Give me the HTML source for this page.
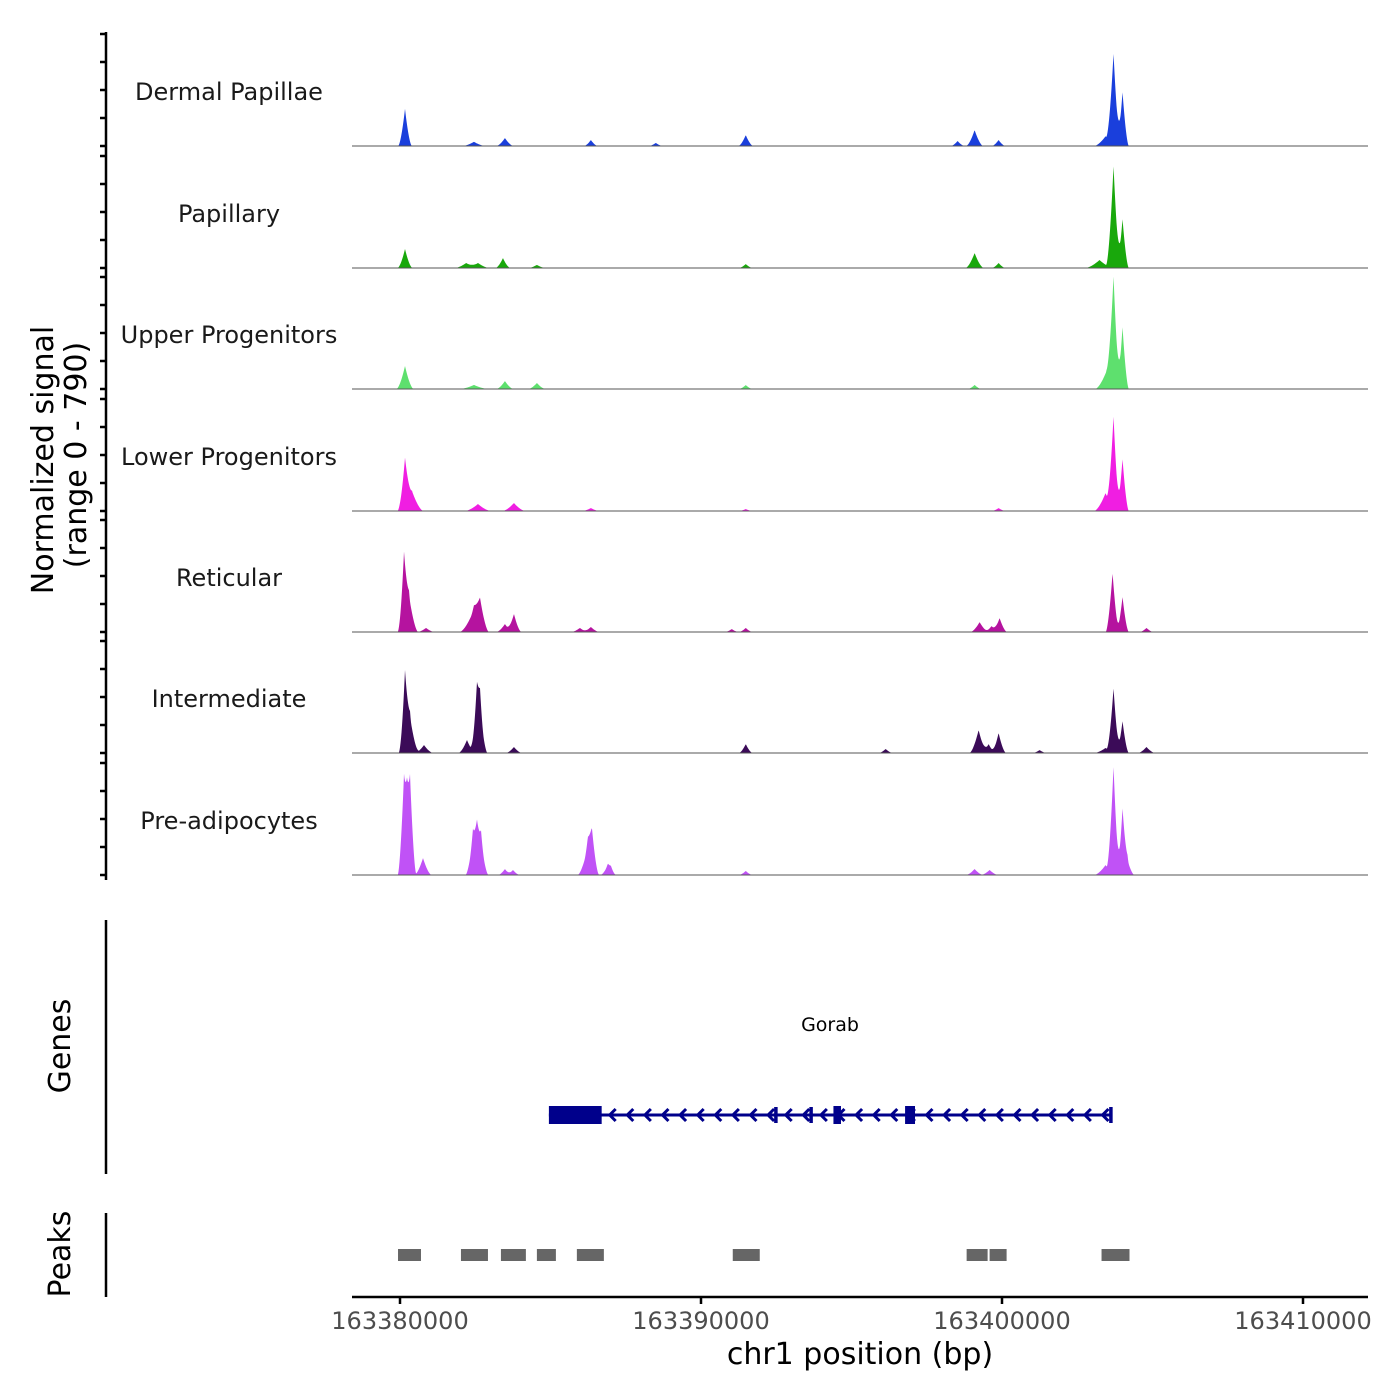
<!DOCTYPE html>
<html><head><meta charset="utf-8">
<style>
html,body{margin:0;padding:0;background:#fff;}
svg{display:block;font-family:"DejaVu Sans","Liberation Sans",sans-serif;}
</style></head>
<body>
<svg id="chart" width="1400" height="1400" viewBox="0 0 1400 1400" xmlns="http://www.w3.org/2000/svg">
<g id="tracks"></g>
<g id="yaxis"></g>
<text transform="translate(53,460) rotate(-90)" text-anchor="middle" font-size="30" fill="#000">Normalized signal</text>
<text transform="translate(86,455) rotate(-90)" text-anchor="middle" font-size="30" fill="#000">(range 0 - 790)</text>
<g id="genes"></g>
<line x1="106" y1="920" x2="106" y2="1174" stroke="#000" stroke-width="2.5"/>
<text transform="translate(70,1046) rotate(-90)" text-anchor="middle" font-size="30">Genes</text>
<g id="peaks"></g>
<line x1="106" y1="1213" x2="106" y2="1297" stroke="#000" stroke-width="2.5"/>
<text transform="translate(70,1254) rotate(-90)" text-anchor="middle" font-size="30">Peaks</text>
<g id="xaxis"></g>
<text x="860" y="1364" text-anchor="middle" font-size="30">chr1 position (bp)</text>
</svg>
<script>
const NS="http://www.w3.org/2000/svg";
const trackNames=["Dermal Papillae","Papillary","Upper Progenitors","Lower Progenitors","Reticular","Intermediate","Pre-adipocytes"];
const trackColors=["#1a3fdc","#19a80c","#5ee06e","#f01ee2","#b5139f","#3b0b58","#c052f6"];
// peaks per track: [position bp, signal height, half-width bp]
const dermalPeaks=[[163380166,265,120],[163382457,30,200],[163383486,57,150],[163386341,43,120],[163388499,22,120],[163391487,78,130],[163398526,36,120],[163399090,114,150],[163399887,43,120],[163403440,70,200],[163403705,650,130],[163404004,385,110]];
const papillaryPeaks=[[163380166,136,130],[163382200,36,200],[163382590,36,200],[163383420,71,130],[163384548,22,150],[163391487,28,120],[163399090,107,160],[163399887,36,120],[163403240,57,250],[163403705,728,130],[163404004,350,110]];
const upperPeaks=[[163380166,164,150],[163382457,29,250],[163383486,57,150],[163384548,43,150],[163391487,28,120],[163399090,29,120],[163403473,128,200],[163403705,778,130],[163404004,443,110]];
const lowerPeaks=[[163380166,350,130],[163380398,143,200],[163382590,50,230],[163383785,57,200],[163386341,21,150],[163391487,14,120],[163399887,21,120],[163403440,128,200],[163403705,657,120],[163404004,371,110]];
const reticularPeaks=[[163380133,500,110],[163380298,260,160],[163380864,29,150],[163382457,160,250],[163382657,180,160],[163383486,57,150],[163383785,130,130],[163385976,29,150],[163386341,36,150],[163391022,21,120],[163391487,29,120],[163399256,71,160],[163399654,43,130],[163399920,100,130],[163403673,421,120],[163404004,250,110],[163404800,29,120]];
const intermediatePeaks=[[163380166,520,110],[163380332,260,160],[163380797,57,160],[163382225,93,150],[163382557,370,120],[163382657,320,130],[163383785,43,140],[163391487,64,120],[163396135,29,120],[163399223,164,160],[163399555,64,130],[163399887,143,130],[163401248,21,120],[163403440,36,200],[163403705,457,120],[163404004,228,110],[163404800,43,150]];
const preadipoPeaks=[[163380133,560,110],[163380232,300,160],[163380332,560,110],[163380764,121,150],[163382424,260,130],[163382557,250,130],[163382690,250,130],[163383486,43,120],[163383752,36,120],[163386242,200,180],[163386374,250,130],[163386906,71,130],[163387006,36,100],[163391487,29,120],[163399090,43,150],[163399588,36,150],[163403440,71,200],[163403705,764,120],[163404004,464,110],[163404170,107,120]];
const allPeaks=[dermalPeaks,papillaryPeaks,upperPeaks,lowerPeaks,reticularPeaks,intermediatePeaks,preadipoPeaks];
const signalMax=790;
const xTicks=[163380000,163390000,163400000,163410000];
const xTickLabels=["163380000","163390000","163400000","163410000"];
const yTicks=[0,200,400,600,800];
const geneName="Gorab";
const geneStart=163384947, geneEnd=163403638;
const geneUTR=[[163384947,163386700]];
const geneExons=[[163392430,163392530,"thin"],[163393600,163393700,"thin"],[163394400,163394650,"full"],[163396780,163397110,"full"],[163403560,163403638,"thin"]];
const peakRegions=[[163379934,163380697],[163382025,163382922],[163383353,163384182],[163384548,163385179],[163385876,163386773],[163391055,163391952],[163398825,163399522],[163399588,163400153],[163403307,163404236]];

const X0=352,X1=1368;
const kernelScale=1.9;
function xs(bp){return 400+(bp-163380000)*(903/30000);}
const baselines=[146,268,389,511,632,753,875];
function ys(v,b){return b-v*(110.6/signalMax);}

const tracks=document.getElementById('tracks');
allPeaks.forEach((pk,ti)=>{
  const b=baselines[ti];
  const g=document.createElementNS(NS,'g');
  
  
  let d='M'+X0+','+b;
  for(let x=X0;x<=X1;x+=0.5){
    let s=0;
    pk.forEach(p=>{const c=xs(p[0]);const w=p[2]*kernelScale*(903/30000);const dx=Math.abs(x-c);if(dx<w){const t=1-dx/w;s+=p[1]*Math.pow(t,1.6);}});
    d+=' L'+x+','+ys(s,b).toFixed(2);
  }
  d+=' L'+X1+','+b+' Z';
  const path=document.createElementNS(NS,'path');
  path.setAttribute('d',d);path.setAttribute('fill',trackColors[ti]);
  
  
  g.appendChild(path);
  const ln=document.createElementNS(NS,'line');
  ln.setAttribute('x1',X0);ln.setAttribute('x2',X1);ln.setAttribute('y1',b);ln.setAttribute('y2',b);
  ln.setAttribute('stroke','#555');ln.setAttribute('stroke-width','1');
  
  
  g.appendChild(ln);
  const t=document.createElementNS(NS,'text');
  t.setAttribute('x',229);t.setAttribute('y',b-46);t.setAttribute('text-anchor','middle');
  t.setAttribute('font-size','24');t.setAttribute('fill','#1a1a1a');t.textContent=trackNames[ti];
  
  
  g.appendChild(t);
  tracks.appendChild(g);
});
const ya=document.getElementById('yaxis');
let yd='M106,32 L106,880';
baselines.forEach(b=>{yTicks.forEach(v=>{const y=ys(v,b);yd+=' M100,'+y.toFixed(1)+' L106,'+y.toFixed(1);});});
const yp=document.createElementNS(NS,'path');yp.setAttribute('d',yd);yp.setAttribute('stroke','#000');yp.setAttribute('stroke-width','2.5');yp.setAttribute('fill','none');


ya.appendChild(yp);
const gg=document.getElementById('genes');
const gy=1115;
function addRect(parent,x,y,w,h,fill,name){const r=document.createElementNS(NS,'rect');r.setAttribute('x',x);r.setAttribute('y',y);r.setAttribute('width',w);r.setAttribute('height',h);r.setAttribute('fill',fill);


parent.appendChild(r);}
addRect(gg,xs(geneStart),gy-1.5,xs(geneEnd)-xs(geneStart),3,'#00008b','gene-intron-line');
let ad='';
for(let x=xs(geneUTR[0][1])+8;x<xs(geneEnd)-8;x+=17.6){ad+='M'+(x+6)+','+(gy-6)+' L'+x+','+gy+' L'+(x+6)+','+(gy+6)+' ';}
const ap=document.createElementNS(NS,'path');ap.setAttribute('d',ad);ap.setAttribute('stroke','#00008b');ap.setAttribute('stroke-width','3');ap.setAttribute('fill','none');


gg.appendChild(ap);
geneUTR.forEach(u=>addRect(gg,xs(u[0]),gy-9,xs(u[1])-xs(u[0]),18,'#00008b','gene-utr'));
geneExons.forEach(e=>{const w=Math.max(3.5,xs(e[1])-xs(e[0]));const h=e[2]==='full'?18:16;addRect(gg,xs(e[0]),gy-h/2,w,h,'#00008b','gene-exon');});
const gt=document.createElementNS(NS,'text');gt.setAttribute('x',830);gt.setAttribute('y',1031);gt.setAttribute('text-anchor','middle');gt.setAttribute('font-size','19');gt.textContent=geneName;


gg.appendChild(gt);
const pg=document.getElementById('peaks');
peakRegions.forEach(p=>addRect(pg,xs(p[0]),1249,xs(p[1])-xs(p[0]),12,'#666666','peak-region'));
const xa=document.getElementById('xaxis');
let xd='M'+X0+',1297 L'+X1+',1297';
xTicks.forEach(t=>{xd+=' M'+xs(t)+',1297 L'+xs(t)+',1304';});
const xp=document.createElementNS(NS,'path');xp.setAttribute('d',xd);xp.setAttribute('stroke','#000');xp.setAttribute('stroke-width','2.5');xp.setAttribute('fill','none');


xa.appendChild(xp);
xTicks.forEach((t,i)=>{const tx=document.createElementNS(NS,'text');tx.setAttribute('x',xs(t));tx.setAttribute('y',1329);tx.setAttribute('text-anchor','middle');tx.setAttribute('font-size','24');tx.setAttribute('fill','#4d4d4d');tx.textContent=xTickLabels[i];


xa.appendChild(tx);});
</script>
</body></html>
